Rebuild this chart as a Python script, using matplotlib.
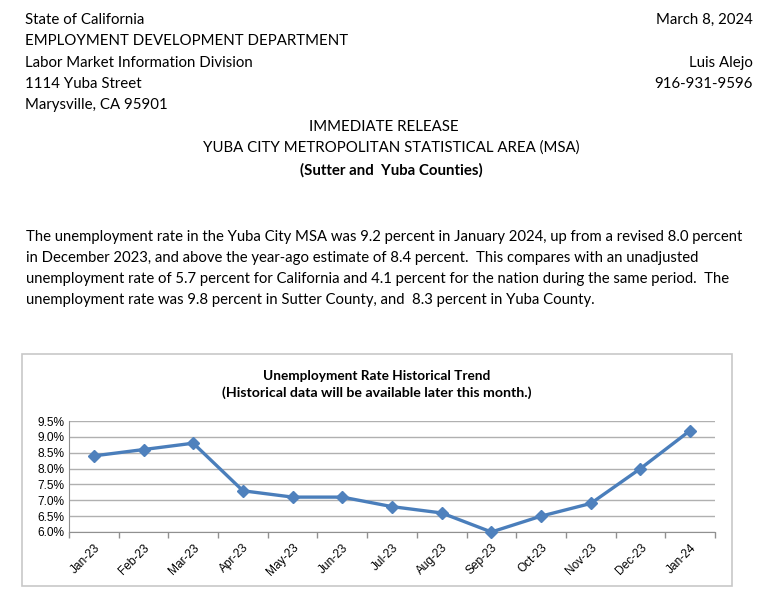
import matplotlib
matplotlib.use("Agg")
import matplotlib.pyplot as plt
from matplotlib.patches import Rectangle

months = ['Jan-23', 'Feb-23', 'Mar-23', 'Apr-23', 'May-23', 'Jun-23', 'Jul-23',
          'Aug-23', 'Sep-23', 'Oct-23', 'Nov-23', 'Dec-23', 'Jan-24']
rate = [8.4, 8.6, 8.8, 7.3, 7.1, 7.1, 6.8, 6.6, 6.0, 6.5, 6.9, 8.0, 9.2]
yticks = [6.0, 6.5, 7.0, 7.5, 8.0, 8.5, 9.0, 9.5]

header_left = ['State of California', 'EMPLOYMENT DEVELOPMENT DEPARTMENT',
               'Labor Market Information Division', '1114 Yuba Street',
               'Marysville, CA 95901']
header_right = [('March 8, 2024', 0), ('Luis Alejo', 2), ('916-931-9596', 3)]
release = ['IMMEDIATE RELEASE', 'YUBA CITY METROPOLITAN STATISTICAL AREA (MSA)']
counties = '(Sutter and  Yuba Counties)'
paragraph = [
    'The unemployment rate in the Yuba City MSA was 9.2 percent in January 2024, up from a revised 8.0 percent',
    'in December 2023, and above the year-ago estimate of 8.4 percent.  This compares with an unadjusted',
    'unemployment rate of 5.7 percent for California and 4.1 percent for the nation during the same period.  The',
    'unemployment rate was 9.8 percent in Sutter County, and  8.3 percent in Yuba County.',
]
chart_title = ['Unemployment Rate Historical Trend',
               '(Historical data will be available later this month.)']

W, H = 768, 590
fig = plt.figure(figsize=(W / 100, H / 100), dpi=100)
fig.patch.set_facecolor('white')

doc_font = ['Lato', 'DejaVu Sans']
chart_font = ['Liberation Sans', 'DejaVu Sans']


def put(px, py, s, ha='left', **kw):
    fig.text(px / W, 1 - py / H, s, ha=ha, va='center', **kw)


for i, s in enumerate(header_left):
    put(25, 20 + i * 21.3, s, fontsize=10.8, family=doc_font)
for s, i in header_right:
    put(753, 20 + i * 21.3, s, ha='right', fontsize=10.8, family=doc_font)
put(384, 127, release[0], ha='center', fontsize=10.8, family=doc_font)
put(391, 148, release[1], ha='center', fontsize=10.8, family=doc_font)
put(391, 170, counties, ha='center', fontsize=10.8, family=doc_font, weight='bold')
for i, s in enumerate(paragraph):
    put(26, 237 + i * 21, s, fontsize=10.75, family=doc_font)

# chart frame, kept behind the axes
fig.patches.append(Rectangle((22 / W, 1 - 586 / H), 710 / W, 232 / H,
                             transform=fig.transFigure, facecolor='white',
                             edgecolor='#c8c8c8', linewidth=1.2, zorder=-1))
put(377, 376, chart_title[0], ha='center', fontsize=9.8, family=doc_font, weight='bold')
put(377, 393, chart_title[1], ha='center', fontsize=10.2, family=doc_font, weight='bold')

ax = fig.add_axes([69 / W, 1 - 532 / H, (715 - 69) / W, (532 - 421) / H])
ax.patch.set_alpha(0)
x = list(range(len(months)))
ax.plot(x, rate, color='#4A7EBB', linewidth=2.4, marker='D', markersize=6.5,
        markerfacecolor='#4F81BD', markeredgecolor='#4F81BD', zorder=3,
        clip_on=False)
ax.set_xlim(-0.5, len(months) - 0.5)
ax.set_ylim(yticks[0], yticks[-1])
ax.set_yticks(yticks)
ax.set_yticklabels(['%.1f%%' % v for v in yticks], family=chart_font, fontsize=8.6)
ax.yaxis.grid(True, color='#b0b0b0', linewidth=1)
ax.set_axisbelow(True)
ax.tick_params(axis='y', length=0, pad=3)
ax.set_xticks(x)
ax.set_xticklabels(months, rotation=45, ha='right', rotation_mode='anchor',
                   family=chart_font, fontsize=8.6)
ax.tick_params(axis='x', which='major', length=0, pad=7)
ax.set_xticks([i - 0.5 for i in range(len(months) + 1)], minor=True)
ax.tick_params(axis='x', which='minor', length=4, color='#909090', width=1)
for side in ['top', 'right']:
    ax.spines[side].set_visible(False)
ax.spines['left'].set_color('#909090')
ax.spines['bottom'].set_color('#909090')

fig.savefig('out.png', dpi=100, facecolor='white')
